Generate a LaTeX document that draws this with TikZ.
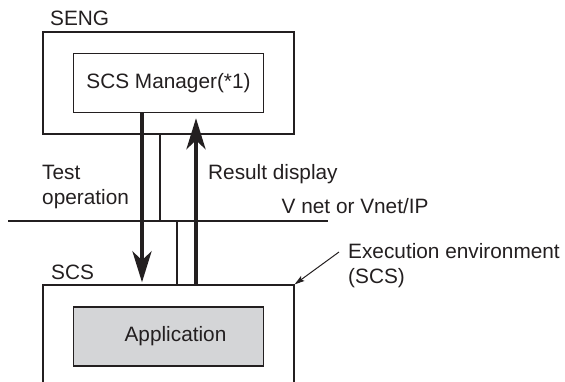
\documentclass[tikz,border=0pt]{standalone}
\usepackage{fontspec}
\setmainfont{Liberation Sans}
\usetikzlibrary{arrows.meta,positioning}
\definecolor{inkgray}{HTML}{231F20}
\definecolor{appgray}{HTML}{D4D5D7}

\begin{document}
\begin{tikzpicture}[
  x=1pt, y=-1pt,
  font=\fontsize{20.8}{24.5}\selectfont,
  every node/.style={text=inkgray},
  hostbox/.style={draw=inkgray, line width=1.3pt, minimum width=251pt, inner sep=0pt},
  innerbox/.style={draw=inkgray, line width=1.3pt, minimum width=190pt, minimum height=59pt, inner sep=0pt},
  appbox/.style={innerbox, fill=appgray},
  flow/.style={-{Stealth[length=31pt, width=19pt, inset=9pt]}, line width=4.6pt, draw=inkgray},
  wire/.style={line width=1.8pt, draw=inkgray},
  netline/.style={line width=2.2pt, draw=inkgray},
  pointer/.style={-{Stealth[length=10pt, width=6pt, inset=2pt]}, line width=1pt, draw=inkgray},
  tag/.style={anchor=base west, inner sep=0pt, align=left}
]
\useasboundingbox (0,0) rectangle (565,381);
\clip (0,0) rectangle (565,381);

% engineering station
\node[hostbox, minimum height=102pt] (seng) at (168.5,83) {};
\node[innerbox] (mgr) at (168.5,83) {SCS Manager(*1)};
\node[tag] (sengtag) at (50,25.5) {SENG};

% control network
\coordinate (netL) at (8,221);
\coordinate (netR) at (328,221);
\coordinate (tapA) at (160,221);
\coordinate (tapB) at (177,221);
\draw[netline] (netL) -- (netR);
\node[tag] (nettag) at (281.5,213) {V net or Vnet/IP};

% safety control station
\node[hostbox, minimum height=140pt] (scs) at (168.5,355) {};
\node[appbox] (app) at (168.5,336.5) {\hspace{14pt}Application};
\node[tag] (scstag) at (51,279.5) {SCS};

\draw[wire] (tapA) -- (tapA |- seng.south);
\draw[wire] (tapB) -- (tapB |- scs.north);

\draw[flow] ([xshift=-26.5pt]mgr.south) -- ([xshift=-26.5pt, yshift=2pt]scs.north);
\draw[flow] ([xshift=27.5pt]scs.north) -- ([xshift=27.5pt, yshift=-5pt]mgr.south);
\node[tag] (testtag) at (42,204) {Test\\operation};
\node[tag] (resulttag) at (208,179.5) {Result display};

\node[tag] (exectag) at (348,283) {Execution environment\\(SCS)};
\draw[pointer] ([xshift=-9pt, yshift=31pt]exectag.base west) -- (scs.north east);
\end{tikzpicture}
\end{document}
